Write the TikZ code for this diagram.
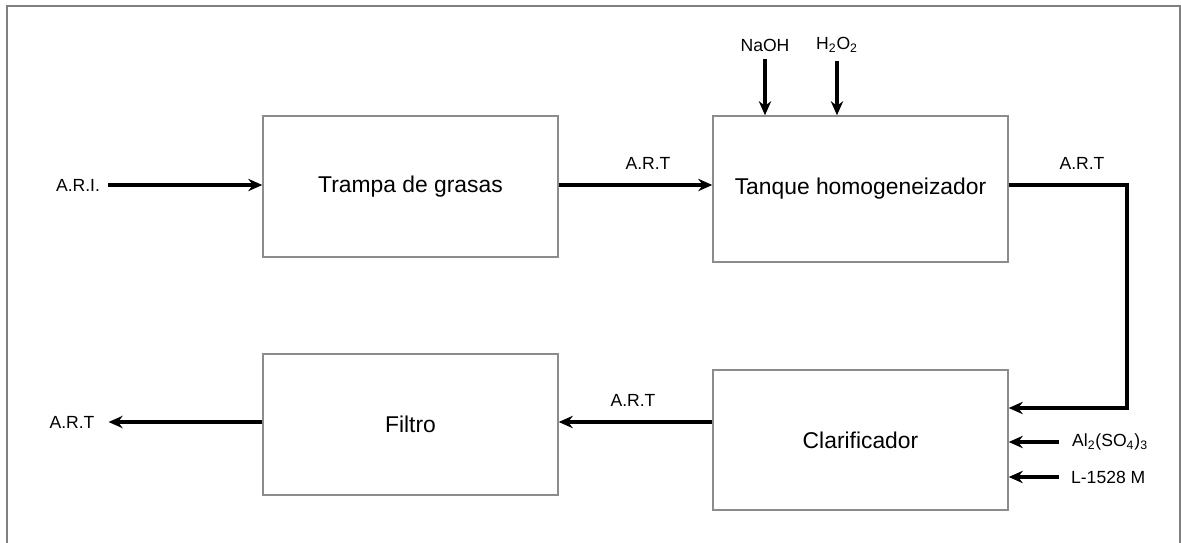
\documentclass[tikz,border=0pt]{standalone}
\usepackage{fontspec}
\setmainfont{Liberation Sans}
\usepackage{tikz}
\usetikzlibrary{positioning, calc, arrows.meta}

\begin{document}
\begin{tikzpicture}[x=0.2mm, y=-0.2mm, >={Stealth[length=8pt,width=7pt]}]
    \tikzset{
        proc/.style={draw=gray!90, line width=0.8pt, minimum width=59mm, font=\fontsize{13}{15}\selectfont},
        flow/.style={->, line width=1.9pt},
        lbl/.style={inner sep=1pt, font=\fontsize{10}{12}\selectfont}
    }

    \useasboundingbox (0,0) rectangle (1181,542);

    % ================= Frame =================
    \draw[gray, line width=1pt] (7,560) -- (7,6) -- (1180,6) -- (1180,560);

    % ================= Process blocks =================
    \node[proc, minimum height=28.2mm] (trampa) at (410.5,186.5) {Trampa de grasas};
    \node[proc, minimum height=29.2mm] (tanque) at (860.5,189) {Tanque homogeneizador};
    \node[proc, minimum height=28mm] (clarif) at (860.5,440) {Clarificador};
    \node[proc, minimum height=28.2mm] (filtro) at (410.5,424.5) {Filtro};

    % ================= Stream labels =================
    \node[lbl] (ari) at (78,185) {A.R.I.};
    \node[lbl] (art1) at (648,163) {A.R.T};
    \node[lbl] (art2) at (1082,163) {A.R.T};
    \node[lbl] (art3) at (633,400) {A.R.T};
    \node[lbl] (art4) at (72,422) {A.R.T};
    \node[lbl] (naoh) at (765,45) {NaOH};
    \node[lbl] (hdos) at (837,45) {H\textsubscript{\scriptsize 2}O\textsubscript{\scriptsize 2}};
    \node[lbl, anchor=west] (alum) at (1070,442) {Al\textsubscript{\scriptsize 2}(SO\textsubscript{\scriptsize 4})\textsubscript{\scriptsize 3}};
    \node[lbl, anchor=west] (poli) at (1069,477) {L-1528 M};

    % Corner of the return line
    \coordinate (codo) at (1127,185);

    % ================= Flows =================
    \draw[flow] (ari.east) ++(6,0) coordinate (ari0) -- (ari0 -| trampa.west);
    \draw[flow] (trampa.east |- 0,185) -- (tanque.west |- 0,185);
    \draw[flow] (tanque.east |- codo) -- (codo) |- ($(clarif.east)+(0,-32)$);
    \draw[flow] (clarif.west |- 0,422) -- (filtro.east |- 0,422);
    \draw[flow] (filtro.west |- 0,422) -- ($(art4.east |- 0,422)+(12,0)$);

    % Chemical feeds
    \draw[flow] (naoh.south) ++(0,6) coordinate (naoh0) -- (naoh0 |- tanque.north);
    \draw[flow] (hdos.south) ++(0,6) coordinate (hdos0) -- (hdos0 |- tanque.north);
    \draw[flow] (alum.west |- 0,442) ++(-11,0) coordinate (alum0) -- (alum0 -| clarif.east);
    \draw[flow] (poli.west |- 0,477) ++(-10,0) coordinate (poli0) -- (poli0 -| clarif.east);

\end{tikzpicture}
\end{document}
